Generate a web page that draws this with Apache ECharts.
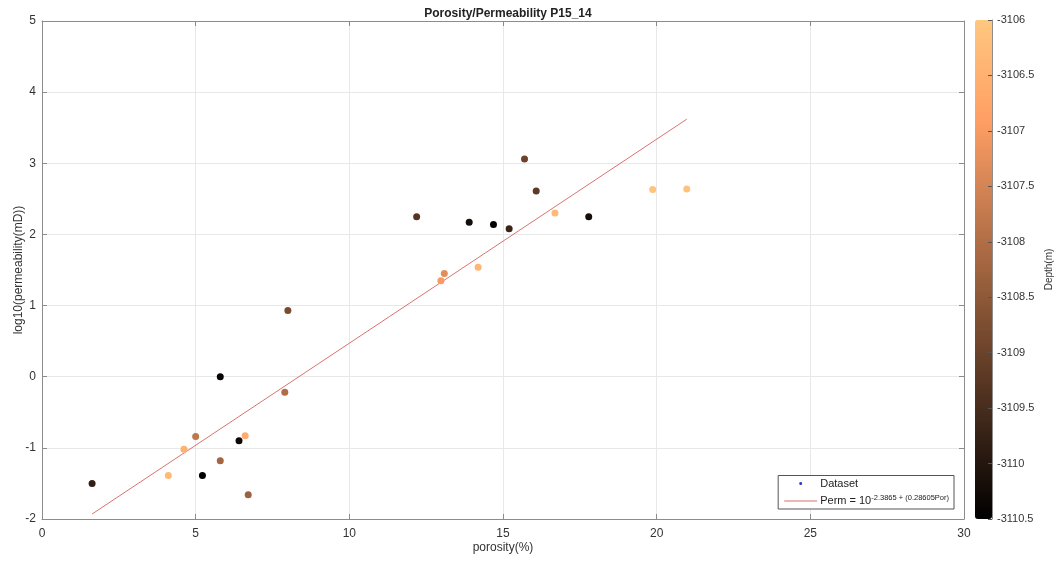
<!DOCTYPE html>
<html lang="en">
  <head>
    <meta charset="UTF-8" />
    <title>Porosity/Permeability P15_14</title>
    <script src="https://cdn.jsdelivr.net/npm/echarts@6/dist/echarts.min.js"></script>
    <style>
      html, body { margin: 0; padding: 0; background: #fff; }
      #chart { width: 1059px; height: 562px; }
    </style>
  </head>
  <body>
    <div id="chart"></div>
    <script>
      // porosity (%), log10 permeability (mD), depth (m)
      var porosity = [1.63, 5.80, 7.90, 5.00, 4.62, 6.61, 6.41, 5.80, 4.11, 5.22, 6.71, 8.00,
        12.19, 13.90, 14.69, 15.20, 15.70, 16.08, 16.69, 17.79, 19.87, 20.98, 13.09, 14.19, 12.98];
      var logPerm = [-1.50, 0.00, -0.22, -0.84, -1.02, -0.83, -0.90, -1.18, -1.39, -1.39, -1.66, 0.93,
        2.25, 2.17, 2.14, 2.08, 3.06, 2.61, 2.30, 2.25, 2.63, 2.64, 1.45, 1.54, 1.35];
      var depth = [-3109.8, -3110.4, -3108.0, -3107.8, -3106.5, -3106.6, -3110.3, -3108.2, -3106.3, -3110.5, -3108.3, -3108.8,
        -3109.3, -3110.2, -3110.4, -3109.7, -3109.0, -3109.2, -3106.3, -3110.2, -3106.1, -3106.1, -3107.3, -3106.4, -3107.0];

      // fitted line end points
      var fitX = [1.63, 20.98];
      var fitY = [-1.93, 3.62];

      var xTicks = [0, 30, 5];
      var yTicks = [-2, 5, 1];
      var depthTicks = [-3110.5, -3106, 0.5];

      var points = porosity.map(function (p, i) {
        return [p, logPerm[i], depth[i]];
      });
      var fitLine = fitX.map(function (x, i) {
        return [x, fitY[i]];
      });

      var font = "Liberation Sans, Arial, sans-serif";
      var axisGrey = "#8c8c8c";
      var labelColor = "#333";
      var fitColor = "#d9726f";

      var myChart = echarts.init(document.getElementById("chart"));
      var option = {
        animation: false,
        textStyle: { fontFamily: font },
        title: {
          text: "Porosity/Permeability P15_14",
          left: 503,
          top: 3,
          textAlign: "center",
          textStyle: { fontSize: 12, fontWeight: "bold", color: "#222", fontFamily: font }
        },
        grid: [
          { left: 42, right: 95, top: 21, bottom: 43, outerBoundsMode: "none" },
          { left: 975, top: 20, width: 17, height: 499, outerBoundsMode: "none" }
        ],
        xAxis: [
          {
            type: "value", gridIndex: 0, min: xTicks[0], max: xTicks[1], interval: xTicks[2],
            name: "porosity(%)", nameLocation: "middle", nameGap: 23, nameMoveOverlap: false,
            nameTextStyle: { fontSize: 12, color: labelColor },
            axisLine: { onZero: false, lineStyle: { color: axisGrey } },
            axisTick: { inside: true, length: 5, lineStyle: { color: axisGrey } },
            axisLabel: { fontSize: 12, color: labelColor, margin: 9 },
            splitLine: { show: true, lineStyle: { color: "#e8e8e8" } }
          },
          {
            type: "value", gridIndex: 0, position: "top", min: xTicks[0], max: xTicks[1], interval: xTicks[2],
            axisLine: { onZero: false, lineStyle: { color: axisGrey } },
            axisTick: { inside: true, length: 5, lineStyle: { color: axisGrey } },
            axisLabel: { show: false },
            splitLine: { show: false }
          },
          {
            type: "value", gridIndex: 1, min: 0, max: 1, show: false
          }
        ],
        yAxis: [
          {
            type: "value", gridIndex: 0, min: yTicks[0], max: yTicks[1], interval: yTicks[2],
            name: "log10(permeability(mD))", nameLocation: "middle", nameGap: 17, nameMoveOverlap: false,
            nameTextStyle: { fontSize: 12, color: labelColor },
            axisLine: { show: true, onZero: false, lineStyle: { color: axisGrey } },
            axisTick: { show: true, inside: true, length: 5, lineStyle: { color: axisGrey } },
            axisLabel: { fontSize: 12, color: labelColor, margin: 6 },
            splitLine: { show: true, lineStyle: { color: "#e8e8e8" } }
          },
          {
            type: "value", gridIndex: 0, position: "right", min: yTicks[0], max: yTicks[1], interval: yTicks[2],
            axisLine: { show: true, onZero: false, lineStyle: { color: axisGrey } },
            axisTick: { show: true, inside: true, length: 5, lineStyle: { color: axisGrey } },
            axisLabel: { show: false },
            splitLine: { show: false }
          },
          {
            type: "value", gridIndex: 1, position: "right",
            min: depthTicks[0], max: depthTicks[1], interval: depthTicks[2],
            name: "Depth(m)", nameLocation: "middle", nameGap: 62, nameRotate: 90, nameMoveOverlap: false,
            nameTextStyle: { fontSize: 10, color: labelColor, verticalAlign: "bottom" },
            axisLine: { show: true, onZero: false, lineStyle: { color: axisGrey } },
            axisTick: { show: true, inside: true, length: 4, lineStyle: { color: "#555" } },
            axisLabel: {
              fontSize: 11, color: labelColor, margin: 5,
              formatter: function (v) { return String(v); }
            },
            splitLine: { show: false },
            z: 10
          }
        ],
        visualMap: {
          type: "continuous",
          seriesIndex: 0,
          dimension: 2,
          min: depthTicks[0],
          max: depthTicks[1],
          left: 975,
          top: 20,
          padding: 0,
          itemWidth: 17,
          itemHeight: 499,
          calculable: false,
          text: null,
          showLabel: false,
          inRange: {
            color: ["#000000", "#40281a", "#805032", "#bf774c", "#ff9f65", "#ffc77f"]
          }
        },
        legend: {
          orient: "vertical",
          right: 105,
          bottom: 53,
          padding: [2, 5, 2, 6],
          itemGap: 4,
          itemWidth: 33,
          itemHeight: 12,
          backgroundColor: "#fff",
          borderColor: "#555",
          borderWidth: 1,
          borderRadius: 0,
          textStyle: {
            fontSize: 11,
            color: "#222",
            padding: [0, 0, 0, -2],
            rich: {
              base: { fontSize: 11, color: "#222" },
              sup: { fontSize: 7.5, color: "#222", verticalAlign: "top", padding: [0, 0, 7, 0] }
            }
          },
          formatter: function (name) {
            if (name === "Dataset") return name;
            return "{base|Perm = 10}{sup|-2.3865 + (0.28605Por)}";
          },
          data: [
            {
              name: "Dataset",
              icon: "path://M0,0 L0.01,0 M33,12 L33.01,12 M15,6 a1.5,1.5 0 1,0 3,0 a1.5,1.5 0 1,0 -3,0 Z",
              itemStyle: { color: "#2f3fbf" }
            },
            {
              name: "fit",
              icon: "path://M0,0 L0.01,0 M33,12 L33.01,12 M0,5.5 L33,5.5 L33,6.5 L0,6.5 Z",
              itemStyle: { color: fitColor }
            }
          ]
        },
        series: [
          {
            name: "Dataset",
            type: "scatter",
            xAxisIndex: 0,
            yAxisIndex: 0,
            symbolSize: 7,
            itemStyle: { opacity: 1 },
            data: points,
            z: 3
          },
          {
            name: "fit",
            type: "line",
            xAxisIndex: 0,
            yAxisIndex: 0,
            symbol: "none",
            lineStyle: { color: fitColor, width: 1 },
            itemStyle: { color: fitColor },
            data: fitLine,
            z: 2
          }
        ]
      };
      myChart.setOption(option);
    </script>
  </body>
</html>
